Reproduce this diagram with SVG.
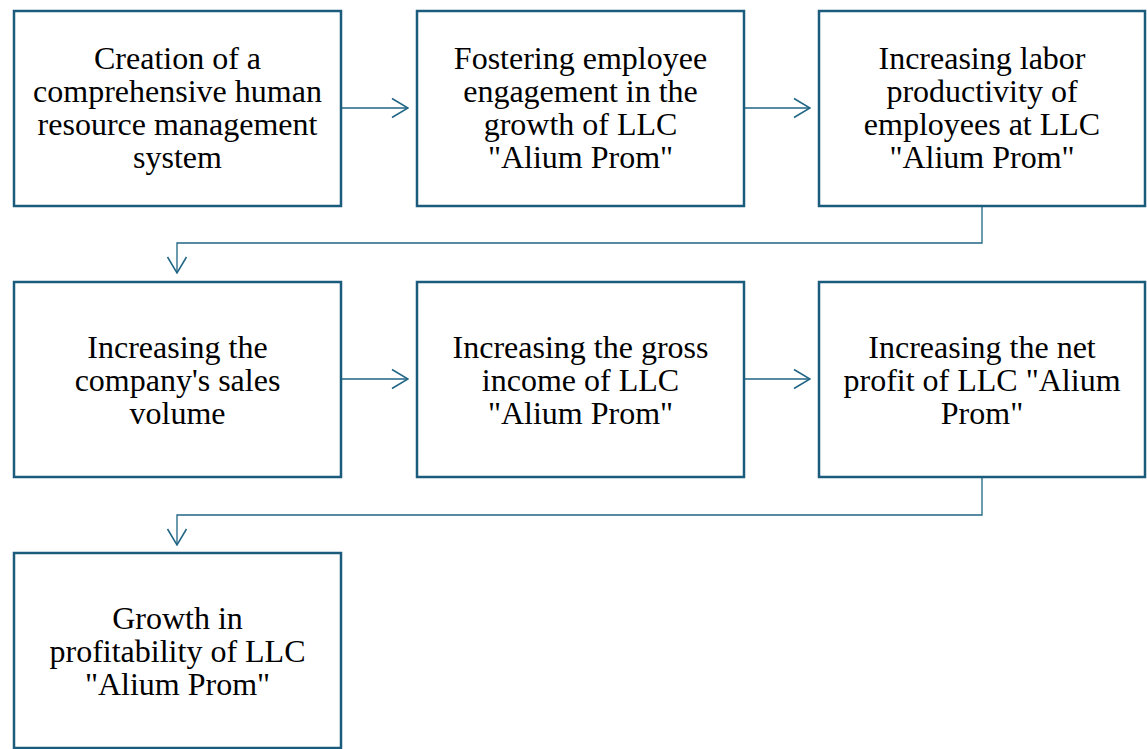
<svg xmlns="http://www.w3.org/2000/svg" width="1147" height="749" viewBox="0 0 1147 749">
  <style>
    .box { fill: #ffffff; stroke: #1b5b7c; stroke-width: 2.5; }
    .label { font-family: "Liberation Serif", "Times New Roman", serif; font-size: 32px; fill: #000000; text-anchor: middle; }
    .link { fill: none; stroke: #1f6585; stroke-width: 1.3; }
  </style>
  <defs>
    <marker id="arrow" viewBox="0 0 18 22" refX="17" refY="11" markerWidth="18" markerHeight="22" markerUnits="userSpaceOnUse" orient="auto">
      <path d="M1,1.5 L17,11 L1,20.5" fill="none" stroke="#1f6585" stroke-width="1.5"/>
    </marker>
  </defs>
  <rect width="1147" height="749" fill="#ffffff"/>

  <g id="connectors">
    <line class="link" x1="342" y1="108" x2="408" y2="108" marker-end="url(#arrow)"/>
    <line class="link" x1="745" y1="108" x2="810" y2="108" marker-end="url(#arrow)"/>
    <polyline class="link" points="982,207 982,243 177,243 177,273" marker-end="url(#arrow)"/>
    <line class="link" x1="342" y1="379" x2="408" y2="379" marker-end="url(#arrow)"/>
    <line class="link" x1="745" y1="379" x2="810" y2="379" marker-end="url(#arrow)"/>
    <polyline class="link" points="982,478 982,515 177,515 177,545" marker-end="url(#arrow)"/>
  </g>

  <g id="node-hrm-system">
    <rect class="box" x="14" y="11" width="327" height="195"/>
    <text class="label" x="177.5" y="69">Creation of a</text>
    <text class="label" x="177.5" y="102">comprehensive human</text>
    <text class="label" x="177.5" y="135">resource management</text>
    <text class="label" x="177.5" y="168">system</text>
  </g>

  <g id="node-engagement">
    <rect class="box" x="417" y="11" width="327" height="195"/>
    <text class="label" x="580.5" y="69">Fostering employee</text>
    <text class="label" x="580.5" y="102">engagement in the</text>
    <text class="label" x="580.5" y="135">growth of LLC</text>
    <text class="label" x="580.5" y="168">"Alium Prom"</text>
  </g>

  <g id="node-productivity">
    <rect class="box" x="819" y="11" width="326" height="195"/>
    <text class="label" x="982" y="69">Increasing labor</text>
    <text class="label" x="982" y="102">productivity of</text>
    <text class="label" x="982" y="135">employees at LLC</text>
    <text class="label" x="982" y="168">"Alium Prom"</text>
  </g>

  <g id="node-sales">
    <rect class="box" x="14" y="282" width="327" height="195"/>
    <text class="label" x="177.5" y="358">Increasing the</text>
    <text class="label" x="177.5" y="391">company's sales</text>
    <text class="label" x="177.5" y="424">volume</text>
  </g>

  <g id="node-gross-income">
    <rect class="box" x="417" y="282" width="327" height="195"/>
    <text class="label" x="580.5" y="358">Increasing the gross</text>
    <text class="label" x="580.5" y="391">income of LLC</text>
    <text class="label" x="580.5" y="424">"Alium Prom"</text>
  </g>

  <g id="node-net-profit">
    <rect class="box" x="819" y="282" width="326" height="195"/>
    <text class="label" x="982" y="358">Increasing the net</text>
    <text class="label" x="982" y="391">profit of LLC "Alium</text>
    <text class="label" x="982" y="424">Prom"</text>
  </g>

  <g id="node-profitability">
    <rect class="box" x="14" y="553" width="327" height="195"/>
    <text class="label" x="177.5" y="629">Growth in</text>
    <text class="label" x="177.5" y="662">profitability of LLC</text>
    <text class="label" x="177.5" y="695">"Alium Prom"</text>
  </g>
</svg>
